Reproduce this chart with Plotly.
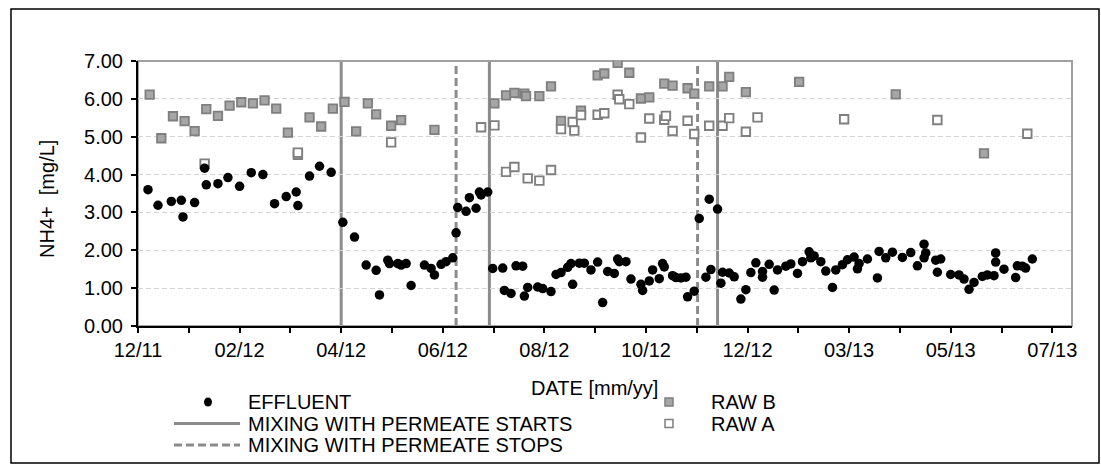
import plotly.graph_objects as go

# ---- measured NH4+ concentrations [mg/L] ----
EFFLUENT_DATES = [
    "2012-01-05", "2012-01-11", "2012-01-19", "2012-01-25", "2012-01-26", "2012-02-02",
    "2012-02-08", "2012-02-09", "2012-02-16", "2012-02-22", "2012-02-29", "2012-03-07",
    "2012-03-14", "2012-03-21", "2012-03-28", "2012-04-03", "2012-04-04", "2012-04-11",
    "2012-04-17", "2012-04-24", "2012-05-01", "2012-05-08", "2012-05-15", "2012-05-21",
    "2012-05-23", "2012-05-28", "2012-05-29", "2012-06-03", "2012-06-05", "2012-06-08",
    "2012-06-11", "2012-06-19", "2012-06-23", "2012-06-25", "2012-06-29", "2012-07-02",
    "2012-07-06", "2012-07-08", "2012-07-09", "2012-07-14", "2012-07-16", "2012-07-20",
    "2012-07-22", "2012-07-23", "2012-07-27", "2012-07-30", "2012-08-05", "2012-08-06",
    "2012-08-10", "2012-08-13", "2012-08-17", "2012-08-18", "2012-08-20", "2012-08-26",
    "2012-08-29", "2012-09-03", "2012-09-06", "2012-09-09", "2012-09-13", "2012-09-15",
    "2012-09-16", "2012-09-20", "2012-09-23", "2012-09-27", "2012-10-01", "2012-10-04",
    "2012-10-07", "2012-10-11", "2012-10-13", "2012-10-14", "2012-10-18", "2012-10-21",
    "2012-10-27", "2012-10-28", "2012-11-01", "2012-11-03", "2012-11-07", "2012-11-09",
    "2012-11-10", "2012-11-15", "2012-11-17", "2012-11-20", "2012-11-23", "2012-11-24",
    "2012-11-28", "2012-12-01", "2012-12-05", "2012-12-07", "2012-12-08", "2012-12-12",
    "2012-12-14", "2012-12-15", "2012-12-19", "2012-12-22", "2012-12-26", "2012-12-29",
    "2013-01-01", "2013-01-04", "2013-01-08", "2013-01-08", "2013-01-12", "2013-01-15",
    "2013-01-17", "2013-01-22", "2013-01-25", "2013-01-29", "2013-02-01", "2013-02-05",
    "2013-02-06", "2013-02-08", "2013-02-12", "2013-02-15", "2013-02-19", "2013-02-21",
    "2013-02-25", "2013-02-28", "2013-03-04", "2013-03-06", "2013-03-07", "2013-03-12",
    "2013-03-18", "2013-03-19", "2013-03-23", "2013-03-27", "2013-04-02", "2013-04-07",
    "2013-04-11", "2013-04-15", "2013-04-15", "2013-04-16", "2013-04-22", "2013-04-23",
    "2013-04-25", "2013-05-01", "2013-05-06", "2013-05-09", "2013-05-12", "2013-05-15",
    "2013-05-20", "2013-05-23", "2013-05-27", "2013-05-28", "2013-05-28", "2013-06-02",
    "2013-06-09", "2013-06-10", "2013-06-13", "2013-06-15", "2013-06-19",
]
EFFLUENT_VALUES = [
    3.60, 3.19, 3.29, 3.32, 2.88, 3.26,
    4.17, 3.73, 3.76, 3.92, 3.69, 4.05,
    4.00, 3.23, 3.42, 3.54, 3.18, 3.96,
    4.22, 4.06, 2.74, 2.35, 1.61, 1.47,
    0.82, 1.74, 1.65, 1.65, 1.61, 1.65,
    1.07, 1.61, 1.52, 1.35, 1.63, 1.70,
    1.80, 2.46, 3.13, 3.03, 3.39, 3.11,
    3.54, 3.46, 3.54, 1.52, 1.53, 0.94,
    0.86, 1.59, 1.58, 0.79, 1.02, 1.03,
    0.99, 0.91, 1.36, 1.41, 1.55, 1.65,
    1.10, 1.66, 1.66, 1.48, 1.69, 0.62,
    1.44, 1.39, 1.77, 1.70, 1.70, 1.24,
    1.10, 0.94, 1.19, 1.48, 1.25, 1.65,
    1.56, 1.33, 1.28, 1.27, 1.29, 0.77,
    0.92, 2.84, 1.29, 3.35, 1.49, 3.09,
    1.13, 1.42, 1.40, 1.30, 0.71, 0.96,
    1.41, 1.67, 1.44, 1.29, 1.63, 0.95,
    1.48, 1.58, 1.64, 1.39, 1.70, 1.96,
    1.80, 1.85, 1.70, 1.45, 1.02, 1.48,
    1.62, 1.75, 1.82, 1.51, 1.65, 1.77,
    1.27, 1.97, 1.80, 1.95, 1.81, 1.94,
    1.59, 2.16, 1.80, 1.93, 1.74, 1.42,
    1.77, 1.36, 1.35, 1.24, 0.97, 1.15,
    1.31, 1.35, 1.33, 1.93, 1.69, 1.50,
    1.28, 1.59, 1.58, 1.53, 1.77,
]

RAW_B_DATES = [
    "2012-01-06", "2012-01-13", "2012-01-20", "2012-01-27", "2012-02-02", "2012-02-09",
    "2012-02-16", "2012-02-23", "2012-03-01", "2012-03-08", "2012-03-15", "2012-03-22",
    "2012-03-29", "2012-04-04", "2012-04-11", "2012-04-18", "2012-04-25", "2012-05-02",
    "2012-05-09", "2012-05-16", "2012-05-21", "2012-05-30", "2012-06-05", "2012-06-25",
    "2012-07-31", "2012-08-07", "2012-08-12", "2012-08-18", "2012-08-19", "2012-08-27",
    "2012-09-03", "2012-09-09", "2012-09-21", "2012-10-01", "2012-10-05", "2012-10-13",
    "2012-10-20", "2012-10-27", "2012-11-01", "2012-11-10", "2012-11-15", "2012-11-24",
    "2012-11-28", "2012-12-07", "2012-12-15", "2012-12-19", "2012-12-29", "2013-01-30",
    "2013-03-29", "2013-05-21",
]
RAW_B_VALUES = [
    6.11, 4.96, 5.54, 5.41, 5.15, 5.73,
    5.55, 5.82, 5.91, 5.88, 5.96, 5.74,
    5.11, 4.52, 5.51, 5.27, 5.74, 5.92,
    5.14, 5.88, 5.59, 5.29, 5.44, 5.18,
    5.88, 6.09, 6.16, 6.14, 6.07, 6.07,
    6.33, 5.42, 5.69, 6.62, 6.67, 6.95,
    6.69, 6.01, 6.04, 6.40, 6.35, 6.28,
    6.14, 6.33, 6.33, 6.58, 6.18, 6.45,
    6.12, 4.56,
]

RAW_A_DATES = [
    "2012-02-08", "2012-04-04", "2012-05-30", "2012-07-23", "2012-07-31", "2012-08-07",
    "2012-08-12", "2012-08-20", "2012-08-27", "2012-09-03", "2012-09-09", "2012-09-16",
    "2012-09-17", "2012-09-21", "2012-10-01", "2012-10-05", "2012-10-13", "2012-10-14",
    "2012-10-20", "2012-10-27", "2012-11-01", "2012-11-10", "2012-11-11", "2012-11-15",
    "2012-11-24", "2012-11-28", "2012-12-07", "2012-12-15", "2012-12-19", "2012-12-29",
    "2013-01-05", "2013-02-26", "2013-04-23", "2013-06-16",
]
RAW_A_VALUES = [
    4.29, 4.58, 4.85, 5.25, 5.30, 4.07,
    4.20, 3.90, 3.84, 4.12, 5.20, 5.39,
    5.16, 5.57, 5.58, 5.62, 6.11, 5.99,
    5.86, 4.98, 5.48, 5.45, 5.55, 5.15,
    5.42, 5.07, 5.29, 5.29, 5.49, 5.13,
    5.51, 5.46, 5.44, 5.08,
]

# dates on which mixing with permeate was switched on / off
MIXING_STARTS = ["2012-04-30", "2012-07-28", "2012-12-12"]
MIXING_STOPS = ["2012-07-08", "2012-11-30"]

Y_TICKS = [0, 1, 2, 3, 4, 5, 6, 7]

FONT = "Liberation Sans, Arial, sans-serif"
GRAY_LINE = "#8c8c8c"

W, H = 1101, 464
L, R, T, B = 138, 29, 61, 138
PW, PH = W - L - R, H - T - B


def px(x):
    return (x - L) / PW


def py(y):
    return (H - B - y) / PH


fig = go.Figure()

fig.add_trace(go.Scatter(
    x=RAW_B_DATES, y=RAW_B_VALUES, mode="markers", name="RAW B", showlegend=False,
    marker=dict(symbol="square", size=8.5, color="#a6a6a6",
                line=dict(color="#7f7f7f", width=1.8)),
))
fig.add_trace(go.Scatter(
    x=RAW_A_DATES, y=RAW_A_VALUES, mode="markers", name="RAW A", showlegend=False,
    marker=dict(symbol="square", size=8.5, color="white",
                line=dict(color="#7f7f7f", width=1.9)),
))
fig.add_trace(go.Scatter(
    x=EFFLUENT_DATES, y=EFFLUENT_VALUES, mode="markers", name="EFFLUENT", showlegend=False,
    marker=dict(symbol="circle", size=9.5, color="black", line=dict(width=0)),
))

# event lines across the full height of the plot
for d in MIXING_STARTS:
    fig.add_shape(type="line", xref="x", yref="paper", x0=d, x1=d, y0=0, y1=1,
                  line=dict(color=GRAY_LINE, width=3), layer="between")
for d in MIXING_STOPS:
    fig.add_shape(type="line", xref="x", yref="paper", x0=d, x1=d, y0=0, y1=1,
                  line=dict(color=GRAY_LINE, width=3, dash="8px,4px"), layer="between")

# gray plot-area frame (left/bottom are overdrawn by the black axis lines)
fig.add_shape(type="rect", xref="paper", yref="paper", x0=0, x1=1, y0=0, y1=1,
              line=dict(color="#a0a0a0", width=2), layer="between")

# outer chart frame
fig.add_shape(type="rect", xref="paper", yref="paper",
              x0=px(11), x1=px(1099), y0=py(463), y1=py(9),
              line=dict(color="black", width=1.5), layer="below")

# axis titles
fig.add_annotation(text="NH4+  [mg/L]", xref="paper", yref="paper",
                   x=px(47), y=py(199), textangle=-90, showarrow=False,
                   xanchor="center", yanchor="middle",
                   font=dict(family=FONT, size=20, color="black"))
fig.add_annotation(text="DATE [mm/yy]", xref="paper", yref="paper",
                   x=px(594), y=py(388), showarrow=False,
                   xanchor="center", yanchor="middle",
                   font=dict(family=FONT, size=20, color="black"))

# legend, laid out in two columns
legend_font = dict(family=FONT, size=20, color="black")
rows = [402, 423.5, 445]
left_labels = ["EFFLUENT", "MIXING WITH PERMEATE STARTS", "MIXING WITH PERMEATE STOPS"]
for yy, lab in zip(rows, left_labels):
    fig.add_annotation(text=lab, xref="paper", yref="paper", x=px(246), y=py(yy),
                       showarrow=False, xanchor="left", yanchor="middle", font=legend_font)
for yy, lab in zip(rows[:2], ["RAW B", "RAW A"]):
    fig.add_annotation(text=lab, xref="paper", yref="paper", x=px(709), y=py(yy),
                       showarrow=False, xanchor="left", yanchor="middle", font=legend_font)

fig.add_shape(type="circle", xref="paper", yref="paper",
              xsizemode="pixel", ysizemode="pixel",
              xanchor=px(208), yanchor=py(rows[0]), x0=-4, x1=4, y0=-4.5, y1=4.5,
              fillcolor="black", line=dict(width=0))
fig.add_shape(type="line", xref="paper", yref="paper",
              x0=px(174), x1=px(240), y0=py(rows[1]), y1=py(rows[1]),
              line=dict(color=GRAY_LINE, width=3))
fig.add_shape(type="line", xref="paper", yref="paper",
              x0=px(174), x1=px(240), y0=py(rows[2]), y1=py(rows[2]),
              line=dict(color=GRAY_LINE, width=3, dash="8px,4px"))
fig.add_shape(type="rect", xref="paper", yref="paper",
              xsizemode="pixel", ysizemode="pixel",
              xanchor=px(669), yanchor=py(rows[0]), x0=-4, x1=4, y0=-4, y1=4,
              fillcolor="#a6a6a6", line=dict(color="#7f7f7f", width=1.5))
fig.add_shape(type="rect", xref="paper", yref="paper",
              xsizemode="pixel", ysizemode="pixel",
              xanchor=px(669), yanchor=py(rows[1]), x0=-4, x1=4, y0=-4, y1=4,
              fillcolor="white", line=dict(color="#7f7f7f", width=1.5))

DAY_MS = 86400000
fig.update_layout(
    width=W, height=H,
    margin=dict(l=L, r=R, t=T, b=B, pad=0),
    paper_bgcolor="white", plot_bgcolor="white",
    font=dict(family=FONT, size=20, color="black"),
    showlegend=False,
    xaxis=dict(
        type="date",
        range=["2011-12-30", "2013-07-12 20:00"],
        tick0="2011-12-30", dtick=61 * DAY_MS, tickformat="%m/%y",
        ticks="outside", ticklen=5, tickwidth=1.5, tickcolor="black",
        minor=dict(tick0="2011-12-30", dtick=int(30.5 * DAY_MS), ticks="outside",
                   ticklen=5, tickwidth=1.5, tickcolor="black", showgrid=False),
        showline=True, linecolor="black", linewidth=2,
        showgrid=False, zeroline=False,
        tickfont=dict(family=FONT, size=20, color="black"),
    ),
    yaxis=dict(
        range=[0, 7], tickvals=Y_TICKS, tickformat=".2f",
        ticks="outside", ticklen=5, tickwidth=1.5, tickcolor="black",
        ticklabelstandoff=4,
        showline=True, linecolor="black", linewidth=2,
        showgrid=True, gridcolor="#d4d4d4", gridwidth=1.3, griddash="5px,3px",
        zeroline=False,
        tickfont=dict(family=FONT, size=20, color="black"),
    ),
)

fig.write_html("out.html")
